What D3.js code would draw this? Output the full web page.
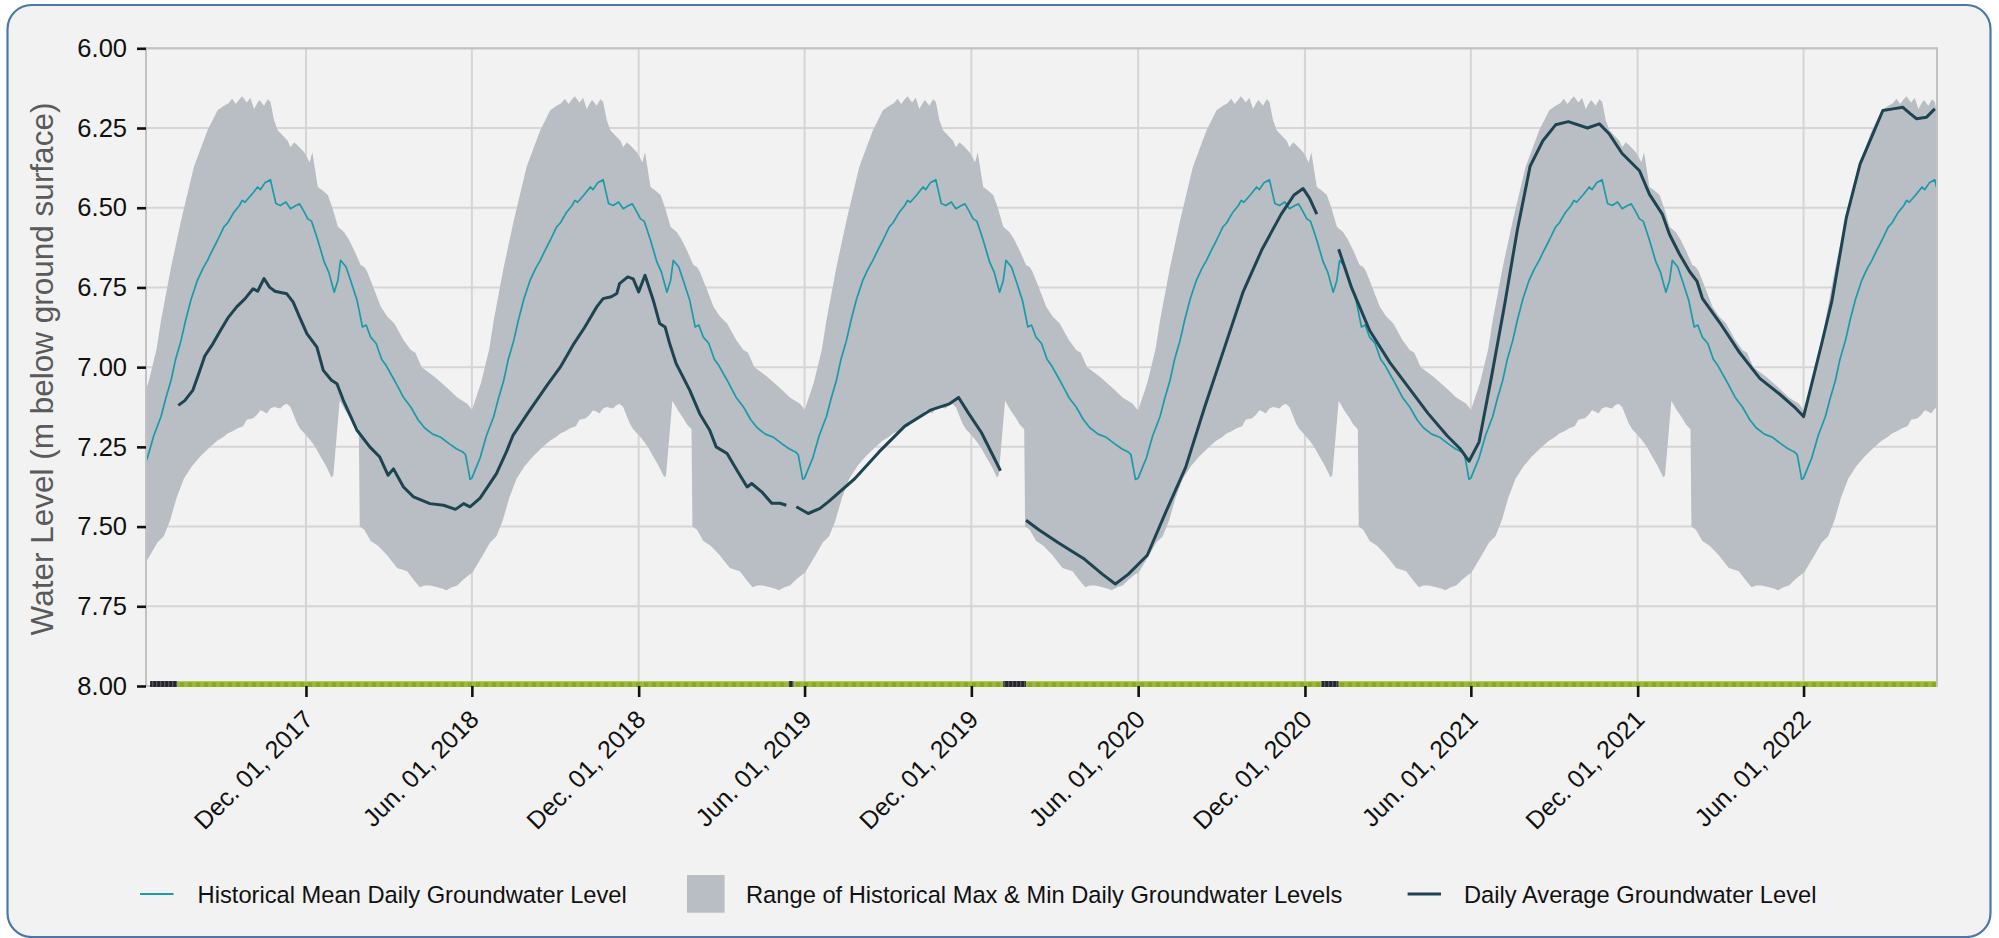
<!DOCTYPE html>
<html><head><meta charset="utf-8">
<script src="https://cdn.jsdelivr.net/npm/d3@7"></script>
<style>
html,body{margin:0;padding:0;background:#fff;}
svg{display:block;font-family:"Liberation Sans",Arial,Helvetica,sans-serif;}
</style>
</head><body>
<svg id="chart" width="1999" height="938"></svg>
<script>
// ---------------- DATA ----------------
// Historical climatology, by day offset from June 1 of each year: [day, metres below ground]
const histMaxByDay = [[0,7.135],[10,7.05],[19,6.945],[24,6.853],[35,6.686],[46,6.54],[60,6.372],[75,6.257],[86,6.194],[93,6.18],[98,6.172],[102,6.158],[106,6.175],[110,6.16],[113,6.15],[118,6.17],[122,6.155],[126,6.19],[130,6.17],[132,6.162],[137,6.18],[141,6.16],[144,6.168],[148,6.226],[152,6.257],[159,6.278],[163,6.29],[166,6.31],[170,6.295],[174,6.305],[181,6.326],[184,6.34],[187,6.358],[190,6.326],[196,6.435],[201,6.445],[207,6.46],[212,6.5],[218,6.56],[225,6.577],[230,6.6],[236,6.634],[243,6.68],[247,6.686],[250,6.7],[257,6.75],[265,6.81],[272,6.84],[280,6.863],[290,6.915],[298,6.946],[303,6.955],[310,7.0],[324,7.03],[338,7.065],[349,7.095],[360,7.115],[364,7.13]];
const histMinByDay = [[0,7.647],[12,7.59],[20,7.55],[27,7.53],[34,7.48],[41,7.41],[49,7.35],[58,7.31],[67,7.28],[78,7.25],[86,7.23],[92,7.22],[97,7.208],[103,7.2],[108,7.192],[114,7.185],[118,7.165],[125,7.16],[129,7.15],[133,7.135],[137,7.14],[140,7.145],[144,7.13],[148,7.125],[155,7.13],[158,7.12],[162,7.115],[166,7.125],[173,7.175],[177,7.195],[182,7.21],[188,7.23],[193,7.25],[199,7.28],[205,7.31],[211,7.345],[213,7.34],[220,7.105],[226,7.135],[232,7.16],[236,7.18],[241,7.195],[242,7.5],[247,7.51],[254,7.545],[262,7.56],[272,7.59],[283,7.63],[294,7.64],[302,7.67],[308,7.69],[313,7.685],[319,7.685],[327,7.69],[333,7.695],[337,7.7],[343,7.69],[349,7.685],[356,7.665],[364,7.647]];
const histMeanByDay = [[0,7.348],[4,7.32],[9,7.285],[16,7.215],[24,7.155],[29,7.1],[35,7.041],[40,6.975],[46,6.916],[51,6.853],[57,6.787],[64,6.727],[70,6.69],[75,6.665],[80,6.635],[86,6.602],[93,6.56],[97,6.548],[104,6.514],[110,6.493],[113,6.477],[116,6.483],[123,6.46],[130,6.435],[133,6.443],[138,6.422],[144,6.412],[150,6.487],[155,6.493],[161,6.482],[166,6.503],[172,6.493],[176,6.488],[181,6.513],[185,6.535],[189,6.542],[192,6.567],[196,6.602],[203,6.67],[208,6.702],[214,6.765],[218,6.728],[221,6.665],[227,6.686],[232,6.728],[239,6.79],[245,6.874],[249,6.868],[254,6.906],[260,6.926],[266,6.975],[271,6.995],[280,7.041],[290,7.095],[298,7.125],[306,7.165],[313,7.19],[322,7.21],[331,7.22],[340,7.24],[348,7.256],[355,7.266],[358,7.274],[361,7.32],[363,7.352]];
const cycleYears = [2016,2017,2018,2019,2020,2021,2022];

// Daily average groundwater level (null = no data)
const dailyDates = ["2017-07-14","2017-07-21","2017-07-30","2017-08-06","2017-08-12","2017-08-21","2017-08-29","2017-09-07","2017-09-16","2017-09-25","2017-10-04","2017-10-09","2017-10-16","2017-10-22","2017-10-28","2017-11-02","2017-11-10","2017-11-17","2017-11-24","2017-12-02","2017-12-13","2017-12-20","2017-12-29","2018-01-04","2018-01-11","2018-01-26","2018-02-09","2018-02-20","2018-03-01","2018-03-07","2018-03-18","2018-03-29","2018-04-16","2018-05-01","2018-05-14","2018-05-23","2018-05-30","2018-06-10","2018-06-28","2018-07-09","2018-07-16","2018-08-01","2018-08-23","2018-09-06","2018-09-21","2018-10-03","2018-10-16","2018-10-23","2018-11-01","2018-11-07","2018-11-10","2018-11-19","2018-11-25","2018-12-01","2018-12-08","2018-12-17","2018-12-24","2018-12-30","2019-01-04","2019-01-11","2019-01-26","2019-02-06","2019-02-17","2019-02-24","2019-03-08","2019-03-19","2019-03-30","2019-04-04","2019-04-15","2019-04-26","2019-05-05","2019-05-12","2019-05-17","2019-05-23","2019-06-05","2019-06-18","2019-06-28","2019-07-26","2019-08-22","2019-09-19","2019-10-17","2019-11-07","2019-11-17","2019-11-28","2019-12-12","2020-01-02","2020-01-15","2020-01-30","2020-02-13","2020-03-05","2020-04-02","2020-04-23","2020-05-07","2020-05-21","2020-06-11","2020-07-02","2020-07-23","2020-08-13","2020-09-03","2020-09-24","2020-10-15","2020-11-05","2020-11-19","2020-11-29","2020-12-06","2020-12-14","2020-12-25","2021-01-07","2021-01-21","2021-02-10","2021-03-04","2021-03-25","2021-04-15","2021-05-06","2021-05-20","2021-05-30","2021-06-10","2021-06-24","2021-07-08","2021-07-22","2021-08-05","2021-08-19","2021-09-02","2021-09-16","2021-10-07","2021-10-20","2021-10-31","2021-11-14","2021-12-03","2021-12-14","2021-12-28","2022-01-05","2022-01-16","2022-01-27","2022-02-04","2022-02-10","2022-03-01","2022-03-23","2022-04-14","2022-05-06","2022-05-22","2022-06-01","2022-06-08","2022-06-21","2022-07-02","2022-07-18","2022-08-02","2022-08-16","2022-08-27","2022-09-07","2022-09-18","2022-09-26","2022-10-03","2022-10-14","2022-10-23"];
const dailyLevels = [7.12,7.105,7.072,7.015,6.965,6.926,6.886,6.843,6.811,6.786,6.754,6.762,6.722,6.749,6.762,6.765,6.77,6.796,6.843,6.895,6.937,7.01,7.041,7.052,7.104,7.198,7.25,7.282,7.339,7.319,7.376,7.407,7.428,7.433,7.446,7.428,7.438,7.411,7.334,7.265,7.215,7.146,7.055,7.0,6.926,6.874,6.811,6.785,6.779,6.769,6.738,6.717,6.723,6.764,6.712,6.79,6.863,6.874,6.926,6.988,7.072,7.146,7.198,7.25,7.271,7.324,7.376,7.365,7.391,7.427,7.427,7.433,null,7.438,7.459,7.443,7.42,7.35,7.265,7.185,7.135,7.115,7.095,7.145,7.205,7.325,null,7.48,7.51,7.55,7.6,7.65,7.68,7.65,7.59,7.45,7.315,7.125,6.945,6.765,6.63,6.52,6.46,6.44,6.47,6.52,null,6.63,6.75,6.885,6.985,7.065,7.145,7.215,7.255,7.295,7.235,7.025,6.805,6.57,6.37,6.29,6.24,6.23,6.25,6.237,6.269,6.33,6.384,6.458,6.52,6.584,6.646,6.7,6.73,6.784,6.86,6.955,7.035,7.085,7.125,7.155,7.075,6.925,6.794,6.53,6.363,6.269,6.195,6.19,6.185,6.205,6.221,6.216,6.19];

// Data-availability strip along the bottom
const stripStarts = ["2017-06-13","2017-07-13","2019-05-15","2019-05-20","2020-01-05","2020-01-30","2020-12-19","2021-01-07"];
const stripEnds   = ["2017-07-13","2019-05-15","2019-05-20","2020-01-05","2020-01-30","2020-12-19","2021-01-07","2022-10-26"];
const stripStatus = ["missing","ok","missing","ok","missing","ok","missing","ok"];

const yTickValues = [6.00,6.25,6.50,6.75,7.00,7.25,7.50,7.75,8.00];
const xTickDates = ["2017-12-01","2018-06-01","2018-12-01","2019-06-01","2019-12-01","2020-06-01","2020-12-01","2021-06-01","2021-12-01","2022-06-01"];
const yAxisTitle = "Water Level (m below ground surface)";
const legendLabels = ["Historical Mean Daily Groundwater Level","Range of Historical Max & Min Daily Groundwater Levels","Daily Average Groundwater Level"];

// ---------------- CHART ----------------
const svg = d3.select("#chart");
const M = {left:146, top:48.3, right:1937, bottom:686};
const parse = d3.utcParse("%Y-%m-%d");
const x = d3.scaleUtc().domain([Date.UTC(2017,5,8,12), Date.UTC(2022,9,25,10)]).range([M.left, M.right]);
const y = d3.scaleLinear().domain([6,8]).range([M.top, M.bottom]);

const COL = {bg:"#f2f2f2", panel:"#4c78a8", band:"#b9bdc4", mean:"#1b9aaa", daily:"#1e4452", grid:"#d5d5d5", frame:"#c2c2c2"};

// panel
svg.append("rect").attr("x",7.5).attr("y",5).attr("width",1983).attr("height",932)
  .attr("rx",24).attr("fill",COL.bg).attr("stroke",COL.panel).attr("stroke-width",2.2);

const defs = svg.append("defs");
defs.append("clipPath").attr("id","plotclip").append("rect")
  .attr("x",M.left).attr("y",M.top).attr("width",M.right-M.left).attr("height",M.bottom-M.top);
const pg = defs.append("pattern").attr("id","okpat").attr("patternUnits","userSpaceOnUse")
  .attr("width",8).attr("height",6).attr("y",681);
pg.append("rect").attr("width",8).attr("height",6).attr("fill","#89aa20");
pg.append("rect").attr("width",4).attr("height",6).attr("fill","#9bb838");
pg.append("rect").attr("width",8).attr("height",1.2).attr("fill","#b3c866");
const pm = defs.append("pattern").attr("id","misspat").attr("patternUnits","userSpaceOnUse")
  .attr("width",4).attr("height",6).attr("y",681);
pm.append("rect").attr("width",4).attr("height",6).attr("fill","#26262e");
pm.append("rect").attr("width",1.3).attr("height",6).attr("fill","#55555f");

// gridlines
const xTicks = xTickDates.map(parse);
const gGrid = svg.append("g");
gGrid.selectAll("line.h").data(yTickValues).join("line")
  .attr("x1",M.left).attr("x2",M.right).attr("y1",d=>y(d)).attr("y2",d=>y(d))
  .attr("stroke",COL.grid).attr("stroke-width",2);
gGrid.selectAll("line.v").data(xTicks).join("line")
  .attr("x1",d=>x(d)).attr("x2",d=>x(d)).attr("y1",M.top).attr("y2",M.bottom)
  .attr("stroke",COL.grid).attr("stroke-width",2);

const plot = svg.append("g").attr("clip-path","url(#plotclip)");

function cyclePoints(table){
  const pts=[];
  cycleYears.forEach(yr=>{
    const base = Date.UTC(yr,5,1);
    table.forEach(([d,v])=>pts.push([new Date(base + d*864e5), v]));
  });
  return pts;
}
const lineGen = d3.line().x(p=>x(p[0])).y(p=>y(p[1]));
const upper = cyclePoints(histMaxByDay);
const lower = cyclePoints(histMinByDay).reverse();
plot.append("path").attr("d", lineGen(upper.concat(lower))+"Z").attr("fill",COL.band);

plot.append("path").attr("d", lineGen(cyclePoints(histMeanByDay)))
  .attr("fill","none").attr("stroke",COL.mean).attr("stroke-width",1.7).attr("stroke-linejoin","round");

const daily = dailyDates.map((d,i)=>[parse(d), dailyLevels[i]]);
plot.append("path").attr("d", d3.line().defined(p=>p[1]!=null).x(p=>x(p[0])).y(p=>y(p[1]))(daily))
  .attr("fill","none").attr("stroke",COL.daily).attr("stroke-width",3).attr("stroke-linejoin","round");

// frame
svg.append("rect").attr("x",M.left).attr("y",M.top).attr("width",M.right-M.left).attr("height",M.bottom-M.top)
  .attr("fill","none").attr("stroke",COL.frame).attr("stroke-width",2);

// data strip
svg.append("g").selectAll("rect").data(stripStarts.map((s,i)=>({s:parse(s),e:parse(stripEnds[i]),st:stripStatus[i]})))
  .join("rect")
  .attr("x",d=>Math.max(M.left+2,x(d.s))).attr("width",d=>Math.min(M.right-1,x(d.e))-Math.max(M.left+2,x(d.s)))
  .attr("y",681).attr("height",6)
  .attr("fill",d=>d.st==="ok"?"url(#okpat)":"url(#misspat)");

// y axis
const yAxis = svg.append("g").attr("transform",`translate(${M.left},0)`)
  .call(d3.axisLeft(y).tickValues(yTickValues).tickSize(9).tickPadding(10).tickFormat(d3.format(".2f")));
yAxis.select(".domain").remove();
yAxis.selectAll(".tick line").attr("stroke","#111").attr("stroke-width",2.6);
yAxis.selectAll(".tick text").attr("font-size",25.5).attr("fill","#111").attr("font-family","Liberation Sans, Arial, sans-serif");

// x axis
const fmt = d3.utcFormat("%b. %d, %Y");
const xAxis = svg.append("g").attr("transform",`translate(0,${M.bottom})`)
  .call(d3.axisBottom(x).tickValues(xTicks).tickSize(11).tickFormat(fmt));
xAxis.select(".domain").remove();
xAxis.selectAll(".tick line").attr("stroke","#111").attr("stroke-width",2.6);
xAxis.selectAll(".tick text").attr("font-size",25).attr("fill","#111")
  .attr("font-family","Liberation Sans, Arial, sans-serif")
  .attr("x",0).attr("y",0).attr("dy",0).attr("text-anchor","end")
  .attr("transform","translate(8,35) rotate(-45)");

// y title
svg.append("text").attr("transform","translate(53,369) rotate(-90)").attr("text-anchor","middle")
  .attr("font-size",31.5).attr("fill","#5a5a5a").text(yAxisTitle);

// legend
const lg = svg.append("g").attr("font-size",23.7).attr("fill","#111");
lg.append("line").attr("x1",140).attr("x2",173.5).attr("y1",894).attr("y2",894).attr("stroke",COL.mean).attr("stroke-width",2);
lg.append("text").attr("x",197.6).attr("y",902.5).text(legendLabels[0]);
lg.append("rect").attr("x",687).attr("y",875).attr("width",37.6).attr("height",37.7).attr("fill",COL.band);
lg.append("text").attr("x",746).attr("y",902.5).text(legendLabels[1]);
lg.append("line").attr("x1",1407.6).attr("x2",1441).attr("y1",894).attr("y2",894).attr("stroke",COL.daily).attr("stroke-width",3);
lg.append("text").attr("x",1464).attr("y",902.5).text(legendLabels[2]);
</script>
</body></html>
